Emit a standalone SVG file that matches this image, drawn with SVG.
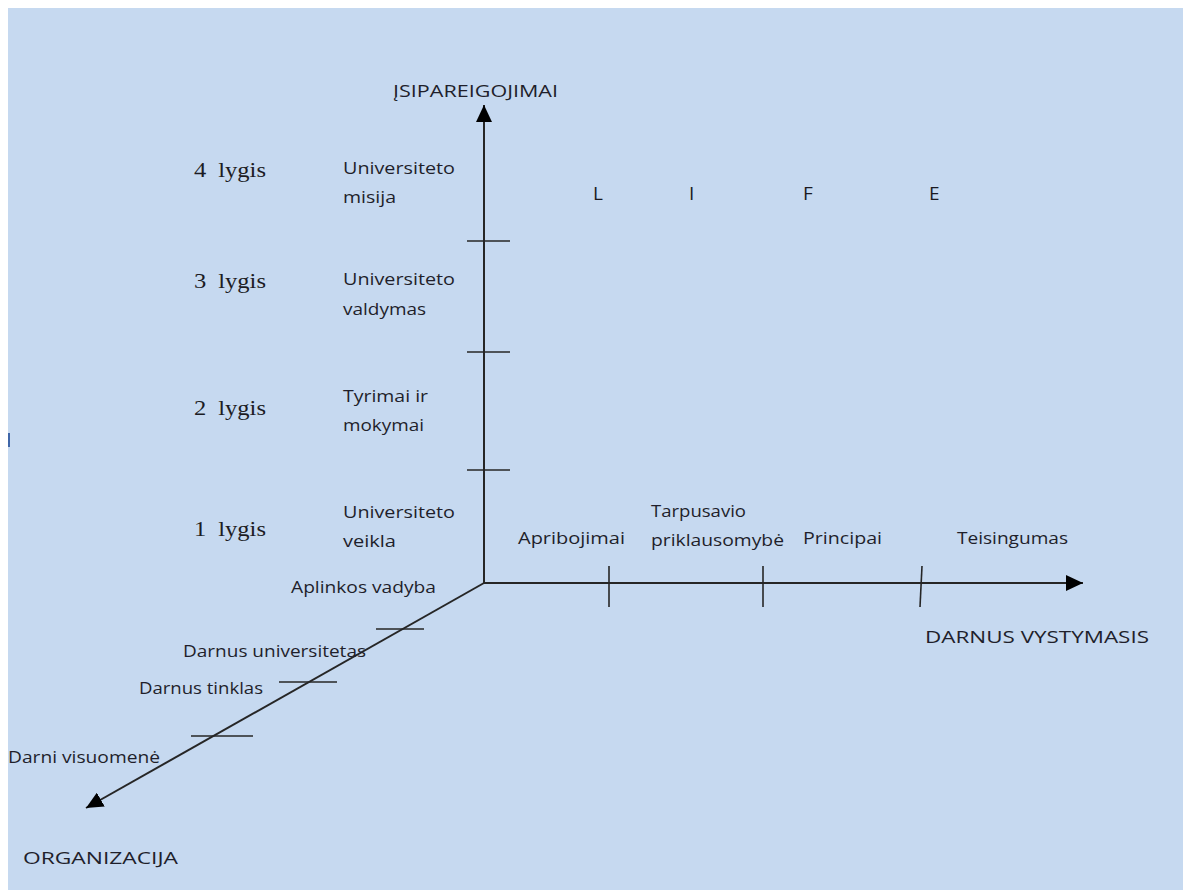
<svg xmlns="http://www.w3.org/2000/svg" width="1183" height="890" viewBox="0 0 1183 890">
<style>
.bg{fill:#c6d9f0}
.ax{stroke:#262626;stroke-width:2;fill:none}
.tk{stroke:#262626;stroke-width:1.6;fill:none}
.t{font-family:"Open Sans","Liberation Sans",sans-serif;font-size:16px;fill:#1f1f2b}
.big{font-family:"Open Sans","Liberation Sans",sans-serif;font-size:17px;fill:#1f1f2b}
.lt{font-family:"Open Sans","Liberation Sans",sans-serif;font-size:19px;fill:#1a1a22}
.lv{font-family:"Liberation Serif","Times New Roman",serif;font-size:21px;fill:#1c1c24;word-spacing:5px}
</style>
<defs>
<marker id="arr" markerUnits="userSpaceOnUse" markerWidth="18" markerHeight="16" refX="17" refY="8" orient="auto">
<path d="M0,0 L17,8 L0,16 Z" fill="#000"/>
</marker>
</defs>
<rect class="bg" x="8" y="8" width="1175" height="882"/>
<rect x="8" y="433" width="2" height="14" fill="#3f66a8"/>

<g id="connectors">
<line id="axis-vertical" class="ax" x1="484" y1="583" x2="484" y2="105" marker-end="url(#arr)"/>
<line id="axis-horizontal" class="ax" x1="484" y1="583" x2="1083" y2="583" marker-end="url(#arr)"/>
<line id="axis-diagonal" class="ax" x1="484" y1="583" x2="86" y2="808" marker-end="url(#arr)"/>
<line class="tk" x1="467" y1="241" x2="510" y2="241"/>
<line class="tk" x1="467" y1="352" x2="510" y2="352"/>
<line class="tk" x1="467" y1="470" x2="510" y2="470"/>
<line class="tk" x1="609" y1="566" x2="609" y2="607"/>
<line class="tk" x1="763" y1="566" x2="763" y2="607"/>
<line class="tk" x1="922" y1="566" x2="920" y2="607"/>
<line class="tk" x1="376" y1="629" x2="424" y2="629"/>
<line class="tk" x1="279" y1="682" x2="337" y2="682"/>
<line class="tk" x1="191" y1="736" x2="253" y2="736"/>
</g>

<g id="axis-labels">
<text class="big" x="393" y="97" textLength="165" lengthAdjust="spacingAndGlyphs">ĮSIPAREIGOJIMAI</text>
<text class="big" x="925" y="643" textLength="224" lengthAdjust="spacingAndGlyphs">DARNUS VYSTYMASIS</text>
<text class="big" x="23" y="864" textLength="155" lengthAdjust="spacingAndGlyphs">ORGANIZACIJA</text>
</g>

<g id="life">
<text class="lt" x="593" y="200">L</text>
<text class="lt" x="689" y="200">I</text>
<text class="lt" x="803" y="200">F</text>
<text class="lt" x="929" y="200">E</text>
</g>

<g id="level-4">
<text class="lv" x="194" y="177" textLength="72" lengthAdjust="spacingAndGlyphs">4 lygis</text>
<text class="t" x="343" y="174" textLength="112" lengthAdjust="spacingAndGlyphs">Universiteto</text>
<text class="t" x="343" y="203" textLength="53" lengthAdjust="spacingAndGlyphs">misija</text>
</g>
<g id="level-3">
<text class="lv" x="194" y="288" textLength="72" lengthAdjust="spacingAndGlyphs">3 lygis</text>
<text class="t" x="343" y="285" textLength="112" lengthAdjust="spacingAndGlyphs">Universiteto</text>
<text class="t" x="343" y="315" textLength="83" lengthAdjust="spacingAndGlyphs">valdymas</text>
</g>
<g id="level-2">
<text class="lv" x="194" y="415" textLength="72" lengthAdjust="spacingAndGlyphs">2 lygis</text>
<text class="t" x="343" y="402" textLength="85" lengthAdjust="spacingAndGlyphs">Tyrimai ir</text>
<text class="t" x="343" y="431" textLength="81" lengthAdjust="spacingAndGlyphs">mokymai</text>
</g>
<g id="level-1">
<text class="lv" x="194" y="536" textLength="72" lengthAdjust="spacingAndGlyphs">1 lygis</text>
<text class="t" x="343" y="518" textLength="112" lengthAdjust="spacingAndGlyphs">Universiteto</text>
<text class="t" x="343" y="547" textLength="53" lengthAdjust="spacingAndGlyphs">veikla</text>
</g>

<g id="dv-apribojimai"><text class="t" x="518" y="544" textLength="107" lengthAdjust="spacingAndGlyphs">Apribojimai</text></g>
<g id="dv-tarpusavio">
<text class="t" x="651" y="517" textLength="95" lengthAdjust="spacingAndGlyphs">Tarpusavio</text>
<text class="t" x="651" y="546" textLength="133" lengthAdjust="spacingAndGlyphs">priklausomybė</text>
</g>
<g id="dv-principai"><text class="t" x="803" y="544" textLength="79" lengthAdjust="spacingAndGlyphs">Principai</text></g>
<g id="dv-teisingumas"><text class="t" x="957" y="544" textLength="111" lengthAdjust="spacingAndGlyphs">Teisingumas</text></g>

<g id="org-aplinkos"><text class="t" x="291" y="593" textLength="145" lengthAdjust="spacingAndGlyphs">Aplinkos vadyba</text></g>
<g id="org-universitetas"><text class="t" x="183" y="657" textLength="183" lengthAdjust="spacingAndGlyphs">Darnus universitetas</text></g>
<g id="org-tinklas"><text class="t" x="139" y="694" textLength="124" lengthAdjust="spacingAndGlyphs">Darnus tinklas</text></g>
<g id="org-visuomene"><text class="t" x="8" y="763" textLength="152" lengthAdjust="spacingAndGlyphs">Darni visuomenė</text></g>
</svg>
